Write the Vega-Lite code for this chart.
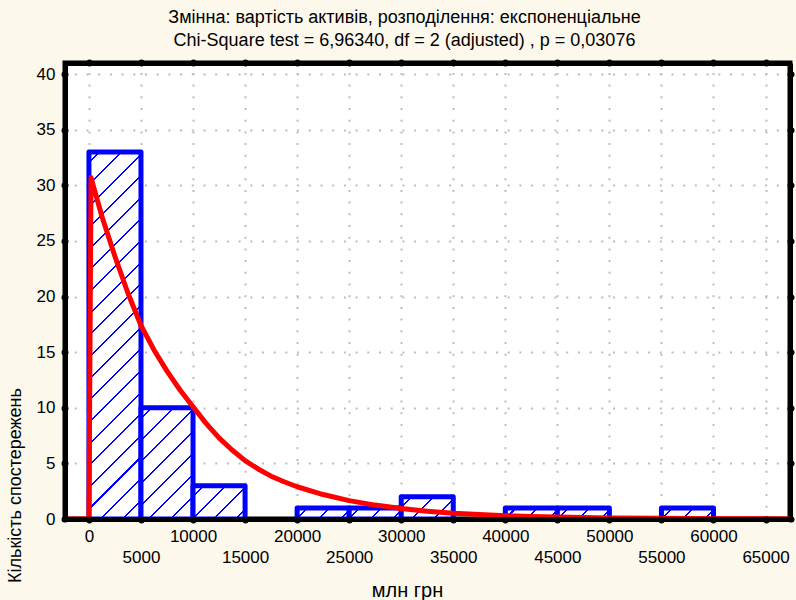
{
  "$schema": "https://vega.github.io/schema/vega-lite/v6.json",
  "width": 725,
  "height": 456,
  "autosize": {"type": "none"},
  "padding": {"left": 65, "top": 63, "right": 6, "bottom": 81},
  "background": "#fdf8ec",
  "config": {
    "view": {"fill": "white", "stroke": "black", "strokeWidth": 5},
    "axis": {"labelFont": "Liberation Sans", "titleFont": "Liberation Sans", "labelColor": "black", "titleColor": "black", "titleFontWeight": "normal"}
  },
  "title": {
    "text": ["Змінна: вартість активів, розподілення: експоненціальне", "Chi-Square test = 6,96340, df = 2 (adjusted) , p = 0,03076"],
    "fontSize": 18, "font": "Liberation Sans", "fontWeight": "normal", "color": "black",
    "lineHeight": 23, "anchor": "middle", "dx": -23, "offset": 9
  },
  "datasets": {
    "bins": [
      {"start": 0, "end": 5000, "count": 33},
      {"start": 5000, "end": 10000, "count": 10},
      {"start": 10000, "end": 15000, "count": 3},
      {"start": 20000, "end": 25000, "count": 1},
      {"start": 25000, "end": 30000, "count": 1},
      {"start": 30000, "end": 35000, "count": 2},
      {"start": 40000, "end": 45000, "count": 1},
      {"start": 45000, "end": 50000, "count": 1},
      {"start": 55000, "end": 60000, "count": 1}
    ],
    "curve": [
      {"amount": -2300, "expected": 0},
      {"amount": 0, "expected": 0},
      {"amount": 200, "expected": 30.7},
      {"amount": 1250, "expected": 27.2},
      {"amount": 2500, "expected": 23.6},
      {"amount": 3750, "expected": 20.3},
      {"amount": 5000, "expected": 17.4},
      {"amount": 6250, "expected": 15.2},
      {"amount": 7500, "expected": 13.3},
      {"amount": 8750, "expected": 11.6},
      {"amount": 10000, "expected": 10.1},
      {"amount": 11250, "expected": 8.6},
      {"amount": 12500, "expected": 7.3},
      {"amount": 13750, "expected": 6.2},
      {"amount": 15000, "expected": 5.25},
      {"amount": 16250, "expected": 4.5},
      {"amount": 17500, "expected": 3.85},
      {"amount": 18750, "expected": 3.35},
      {"amount": 20000, "expected": 2.9},
      {"amount": 22500, "expected": 2.2},
      {"amount": 25000, "expected": 1.65},
      {"amount": 27500, "expected": 1.25},
      {"amount": 30000, "expected": 0.95},
      {"amount": 32500, "expected": 0.7},
      {"amount": 35000, "expected": 0.52},
      {"amount": 37500, "expected": 0.4},
      {"amount": 40000, "expected": 0.3},
      {"amount": 42500, "expected": 0.22},
      {"amount": 45000, "expected": 0.17},
      {"amount": 50000, "expected": 0.1},
      {"amount": 55000, "expected": 0.06},
      {"amount": 60000, "expected": 0.03},
      {"amount": 67350, "expected": 0.01}
    ]
  },
  "layer": [
    {
      "data": {"name": "bins"},
      "mark": {"type": "rect", "stroke": "#0000ff", "strokeWidth": 5, "strokeJoin": "round"},
      "encoding": {
        "x": {
          "field": "start", "type": "quantitative",
          "scale": {"domain": [-2300, 67350], "nice": false, "zero": false},
          "axis": {
            "orient": "bottom", "values": [0, 5000, 10000, 15000, 20000, 25000, 30000, 35000, 40000, 45000, 50000, 55000, 60000, 65000],
            "labelExpr": "datum.value % 10000 === 0 ? format(datum.value, 'd') : ['', format(datum.value, 'd')]",
            "labelLineHeight": 21, "labelFontSize": 17, "labelPadding": 8, "labelAlign": "center", "labelFlush": false, "labelOverlap": false,
            "grid": false,
            "domain": true, "domainColor": "black", "domainWidth": 5,
            "ticks": true, "tickColor": "black", "tickSize": 1, "tickWidth": 6, "tickCap": "round",
            "title": "млн грн", "titleFontSize": 20, "titleX": 342, "titleY": 71, "titleAlign": "center", "titleBaseline": "middle",
            "zindex": 1
          }
        },
        "x2": {"field": "end"},
        "y": {
          "field": "count", "type": "quantitative",
          "scale": {"domain": [0, 41], "nice": false},
          "axis": {
            "orient": "left", "values": [0, 5, 10, 15, 20, 25, 30, 35, 40],
            "labelFontSize": 17, "labelPadding": 9,
            "grid": false,
            "domain": true, "domainColor": "black", "domainWidth": 5,
            "ticks": true, "tickColor": "black", "tickSize": 1, "tickWidth": 6, "tickCap": "round",
            "title": "Кількість спостережень", "titleFontSize": 18, "titleX": -50, "titleY": 422, "titleAngle": -90, "titleAlign": "center", "titleBaseline": "middle",
            "zindex": 1
          }
        },
        "y2": {"datum": 0},
        "fill": {
          "condition": [
            {"test": "datum.count === 33", "value": {"gradient": "linear", "x1": 0, "y1": 0, "x2": 0.1587, "y2": 1.1194, "stops": [
              {"offset": 0, "color": "white"},
              {"offset": 0.0234, "color": "white"}, {"offset": 0.0234, "color": "#0000ff"}, {"offset": 0.0282, "color": "#0000ff"}, {"offset": 0.0282, "color": "white"},
              {"offset": 0.0750, "color": "white"}, {"offset": 0.0750, "color": "#0000ff"}, {"offset": 0.0798, "color": "#0000ff"}, {"offset": 0.0798, "color": "white"},
              {"offset": 0.1267, "color": "white"}, {"offset": 0.1267, "color": "#0000ff"}, {"offset": 0.1315, "color": "#0000ff"}, {"offset": 0.1315, "color": "white"},
              {"offset": 0.1783, "color": "white"}, {"offset": 0.1783, "color": "#0000ff"}, {"offset": 0.1831, "color": "#0000ff"}, {"offset": 0.1831, "color": "white"},
              {"offset": 0.2300, "color": "white"}, {"offset": 0.2300, "color": "#0000ff"}, {"offset": 0.2348, "color": "#0000ff"}, {"offset": 0.2348, "color": "white"},
              {"offset": 0.2816, "color": "white"}, {"offset": 0.2816, "color": "#0000ff"}, {"offset": 0.2864, "color": "#0000ff"}, {"offset": 0.2864, "color": "white"},
              {"offset": 0.3332, "color": "white"}, {"offset": 0.3332, "color": "#0000ff"}, {"offset": 0.3380, "color": "#0000ff"}, {"offset": 0.3380, "color": "white"},
              {"offset": 0.3849, "color": "white"}, {"offset": 0.3849, "color": "#0000ff"}, {"offset": 0.3897, "color": "#0000ff"}, {"offset": 0.3897, "color": "white"},
              {"offset": 0.4365, "color": "white"}, {"offset": 0.4365, "color": "#0000ff"}, {"offset": 0.4413, "color": "#0000ff"}, {"offset": 0.4413, "color": "white"},
              {"offset": 0.4881, "color": "white"}, {"offset": 0.4881, "color": "#0000ff"}, {"offset": 0.4929, "color": "#0000ff"}, {"offset": 0.4929, "color": "white"},
              {"offset": 0.5398, "color": "white"}, {"offset": 0.5398, "color": "#0000ff"}, {"offset": 0.5446, "color": "#0000ff"}, {"offset": 0.5446, "color": "white"},
              {"offset": 0.5914, "color": "white"}, {"offset": 0.5914, "color": "#0000ff"}, {"offset": 0.5962, "color": "#0000ff"}, {"offset": 0.5962, "color": "white"},
              {"offset": 0.6431, "color": "white"}, {"offset": 0.6431, "color": "#0000ff"}, {"offset": 0.6479, "color": "#0000ff"}, {"offset": 0.6479, "color": "white"},
              {"offset": 0.6947, "color": "white"}, {"offset": 0.6947, "color": "#0000ff"}, {"offset": 0.6995, "color": "#0000ff"}, {"offset": 0.6995, "color": "white"},
              {"offset": 0.7463, "color": "white"}, {"offset": 0.7463, "color": "#0000ff"}, {"offset": 0.7511, "color": "#0000ff"}, {"offset": 0.7511, "color": "white"},
              {"offset": 0.7980, "color": "white"}, {"offset": 0.7980, "color": "#0000ff"}, {"offset": 0.8028, "color": "#0000ff"}, {"offset": 0.8028, "color": "white"},
              {"offset": 0.8496, "color": "white"}, {"offset": 0.8496, "color": "#0000ff"}, {"offset": 0.8544, "color": "#0000ff"}, {"offset": 0.8544, "color": "white"},
              {"offset": 0.9013, "color": "white"}, {"offset": 0.9013, "color": "#0000ff"}, {"offset": 0.9061, "color": "#0000ff"}, {"offset": 0.9061, "color": "white"},
              {"offset": 0.9529, "color": "white"}, {"offset": 0.9529, "color": "#0000ff"}, {"offset": 0.9577, "color": "#0000ff"}, {"offset": 0.9577, "color": "white"},
              {"offset": 1, "color": "white"}
            ]}},
            {"test": "datum.count === 10", "value": {"gradient": "linear", "x1": 0, "y1": 0, "x2": 0.5634, "y2": 1.2043, "stops": [
              {"offset": 0, "color": "white"},
              {"offset": 0.0602, "color": "white"}, {"offset": 0.0602, "color": "#0000ff"}, {"offset": 0.0724, "color": "#0000ff"}, {"offset": 0.0724, "color": "white"},
              {"offset": 0.1927, "color": "white"}, {"offset": 0.1927, "color": "#0000ff"}, {"offset": 0.2049, "color": "#0000ff"}, {"offset": 0.2049, "color": "white"},
              {"offset": 0.3252, "color": "white"}, {"offset": 0.3252, "color": "#0000ff"}, {"offset": 0.3374, "color": "#0000ff"}, {"offset": 0.3374, "color": "white"},
              {"offset": 0.4577, "color": "white"}, {"offset": 0.4577, "color": "#0000ff"}, {"offset": 0.4699, "color": "#0000ff"}, {"offset": 0.4699, "color": "white"},
              {"offset": 0.5902, "color": "white"}, {"offset": 0.5902, "color": "#0000ff"}, {"offset": 0.6024, "color": "#0000ff"}, {"offset": 0.6024, "color": "white"},
              {"offset": 0.7227, "color": "white"}, {"offset": 0.7227, "color": "#0000ff"}, {"offset": 0.7349, "color": "#0000ff"}, {"offset": 0.7349, "color": "white"},
              {"offset": 0.8552, "color": "white"}, {"offset": 0.8552, "color": "#0000ff"}, {"offset": 0.8674, "color": "#0000ff"}, {"offset": 0.8674, "color": "white"},
              {"offset": 1, "color": "white"}
            ]}},
            {"test": "datum.count === 3", "value": {"gradient": "linear", "x1": 0, "y1": 0, "x2": 1.1631, "y2": 0.7458, "stops": [
              {"offset": 0, "color": "white"},
              {"offset": 0.1150, "color": "white"}, {"offset": 0.1150, "color": "#0000ff"}, {"offset": 0.1384, "color": "#0000ff"}, {"offset": 0.1384, "color": "white"},
              {"offset": 0.3683, "color": "white"}, {"offset": 0.3683, "color": "#0000ff"}, {"offset": 0.3917, "color": "#0000ff"}, {"offset": 0.3917, "color": "white"},
              {"offset": 0.6216, "color": "white"}, {"offset": 0.6216, "color": "#0000ff"}, {"offset": 0.6450, "color": "#0000ff"}, {"offset": 0.6450, "color": "white"},
              {"offset": 0.8750, "color": "white"}, {"offset": 0.8750, "color": "#0000ff"}, {"offset": 0.8984, "color": "#0000ff"}, {"offset": 0.8984, "color": "white"},
              {"offset": 1, "color": "white"}
            ]}},
            {"test": "datum.count === 2", "value": {"gradient": "linear", "x1": 0, "y1": 0, "x2": 1.2070, "y2": 0.5160, "stops": [
              {"offset": 0, "color": "white"},
              {"offset": 0.1321, "color": "white"}, {"offset": 0.1321, "color": "#0000ff"}, {"offset": 0.1591, "color": "#0000ff"}, {"offset": 0.1591, "color": "white"},
              {"offset": 0.4233, "color": "white"}, {"offset": 0.4233, "color": "#0000ff"}, {"offset": 0.4503, "color": "#0000ff"}, {"offset": 0.4503, "color": "white"},
              {"offset": 0.7145, "color": "white"}, {"offset": 0.7145, "color": "#0000ff"}, {"offset": 0.7415, "color": "#0000ff"}, {"offset": 0.7415, "color": "white"},
              {"offset": 1, "color": "white"}
            ]}}
          ],
          "value": {"gradient": "linear", "x1": 0, "y1": 0, "x2": 1.1607, "y2": 0.2481, "stops": [
            {"offset": 0, "color": "white"},
            {"offset": 0.1553, "color": "white"}, {"offset": 0.1553, "color": "#0000ff"}, {"offset": 0.1871, "color": "#0000ff"}, {"offset": 0.1871, "color": "white"},
            {"offset": 0.4978, "color": "white"}, {"offset": 0.4978, "color": "#0000ff"}, {"offset": 0.5296, "color": "#0000ff"}, {"offset": 0.5296, "color": "white"},
            {"offset": 0.8403, "color": "white"}, {"offset": 0.8403, "color": "#0000ff"}, {"offset": 0.8721, "color": "#0000ff"}, {"offset": 0.8721, "color": "white"},
            {"offset": 1, "color": "white"}
          ]}
        }
      }
    },
    {
      "data": {"name": "curve"},
      "mark": {"type": "line", "color": "#ff0000", "strokeWidth": 5, "strokeCap": "round", "strokeJoin": "round", "clip": true},
      "encoding": {
        "x": {
          "field": "amount", "type": "quantitative",
          "scale": {"domain": [-2300, 67350], "nice": false, "zero": false},
          "axis": {
            "orient": "top", "values": [0, 5000, 10000, 15000, 20000, 25000, 30000, 35000, 40000, 45000, 50000, 55000, 60000, 65000],
            "labels": false, "title": null,
            "grid": true, "gridColor": "#bdbdbd", "gridDash": [2, 9.7], "gridWidth": 2,
            "domain": true, "domainColor": "black", "domainWidth": 5,
            "ticks": true, "tickColor": "black", "tickSize": 1, "tickWidth": 6, "tickCap": "round", "zindex": 0
          }
        },
        "y": {
          "field": "expected", "type": "quantitative",
          "scale": {"domain": [0, 41], "nice": false},
          "axis": {
            "orient": "right", "values": [0, 5, 10, 15, 20, 25, 30, 35, 40],
            "labels": false, "title": null,
            "grid": true, "gridColor": "#bdbdbd", "gridDash": [2, 9.7], "gridWidth": 2,
            "domain": true, "domainColor": "black", "domainWidth": 5,
            "ticks": true, "tickColor": "black", "tickSize": 1, "tickWidth": 6, "tickCap": "round", "zindex": 0
          }
        }
      }
    }
  ],
  "resolve": {"axis": {"x": "independent", "y": "independent"}}
}
